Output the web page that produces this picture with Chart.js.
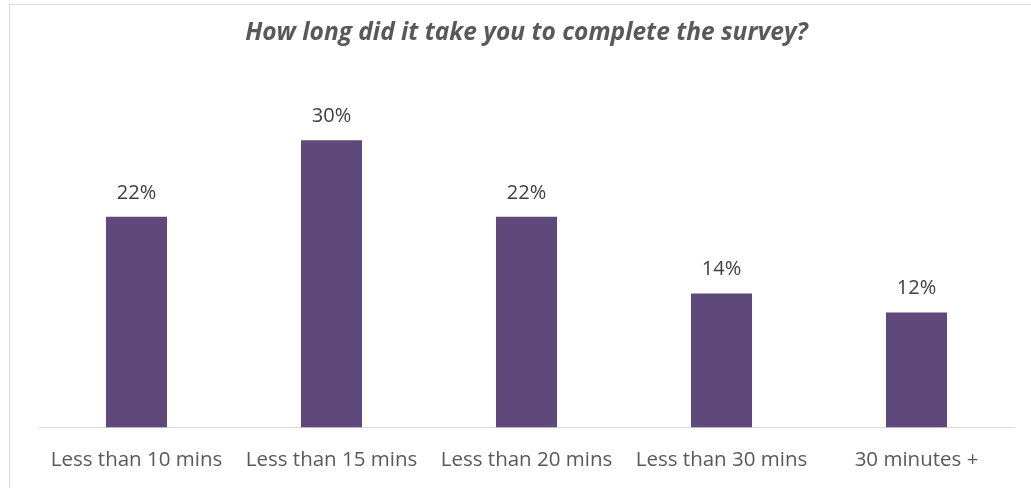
<!DOCTYPE html>
<html>
<head>
<meta charset="utf-8">
<script src="https://cdn.jsdelivr.net/npm/chart.js@4.4.0/dist/chart.umd.min.js"></script>
<style>
  html, body { margin: 0; padding: 0; overflow: hidden; background: #fff; }
  #frame { position: absolute; left: 9px; top: 4px; width: 1100px; height: 600px; border: 1px solid #d9d9d9; }
  #chart { position: absolute; left: 0; top: 0; }
</style>
</head>
<body>
<div id="frame"></div>
<canvas id="chart" width="1031" height="510"></canvas>
<script>
const categories = ["Less than 10 mins", "Less than 15 mins", "Less than 20 mins", "Less than 30 mins", "30 minutes +"];
const shares = [22, 30, 22, 14, 12];

// percent labels above each bar
const barLabels = {
  id: "barLabels",
  afterDatasetsDraw(chart) {
    const ctx = chart.ctx;
    ctx.save();
    ctx.font = "20px 'Open Sans'";
    ctx.fillStyle = "#404040";
    ctx.textAlign = "center";
    ctx.textBaseline = "middle";
    chart.getDatasetMeta(0).data.forEach((bar, i) => {
      ctx.fillText(shares[i] + "%", bar.x, bar.y - 24);
    });
    ctx.restore();
  }
};

const ctx = document.querySelector("#chart").getContext("2d");

new Chart(ctx, {
  type: "bar",
  data: {
    labels: categories,
    datasets: [
      {
        data: shares,
        backgroundColor: "#5f497a",
        categoryPercentage: 1,
        barPercentage: 0.313
      }
    ]
  },
  options: {
    responsive: false,
    animation: false,
    layout: {
      padding: { top: 0, left: 39, right: 17, bottom: 18 }
    },
    plugins: {
      legend: { display: false },
      tooltip: { enabled: false },
      title: {
        display: true,
        text: "How long did it take you to complete the survey?",
        color: "#595959",
        font: { family: "'Open Sans'", size: 24.5, style: "italic", weight: "bold" },
        padding: { top: 18, bottom: 45 }
      }
    },
    scales: {
      x: {
        grid: { display: false, drawTicks: false },
        border: { color: "#d9d9d9", width: 1 },
        ticks: {
          color: "#595959",
          font: { family: "'Open Sans'", size: 20.5 },
          padding: 20,
          maxRotation: 0
        }
      },
      y: {
        display: false,
        min: 0,
        max: 35
      }
    }
  },
  plugins: [barLabels]
});
</script>
</body>
</html>
